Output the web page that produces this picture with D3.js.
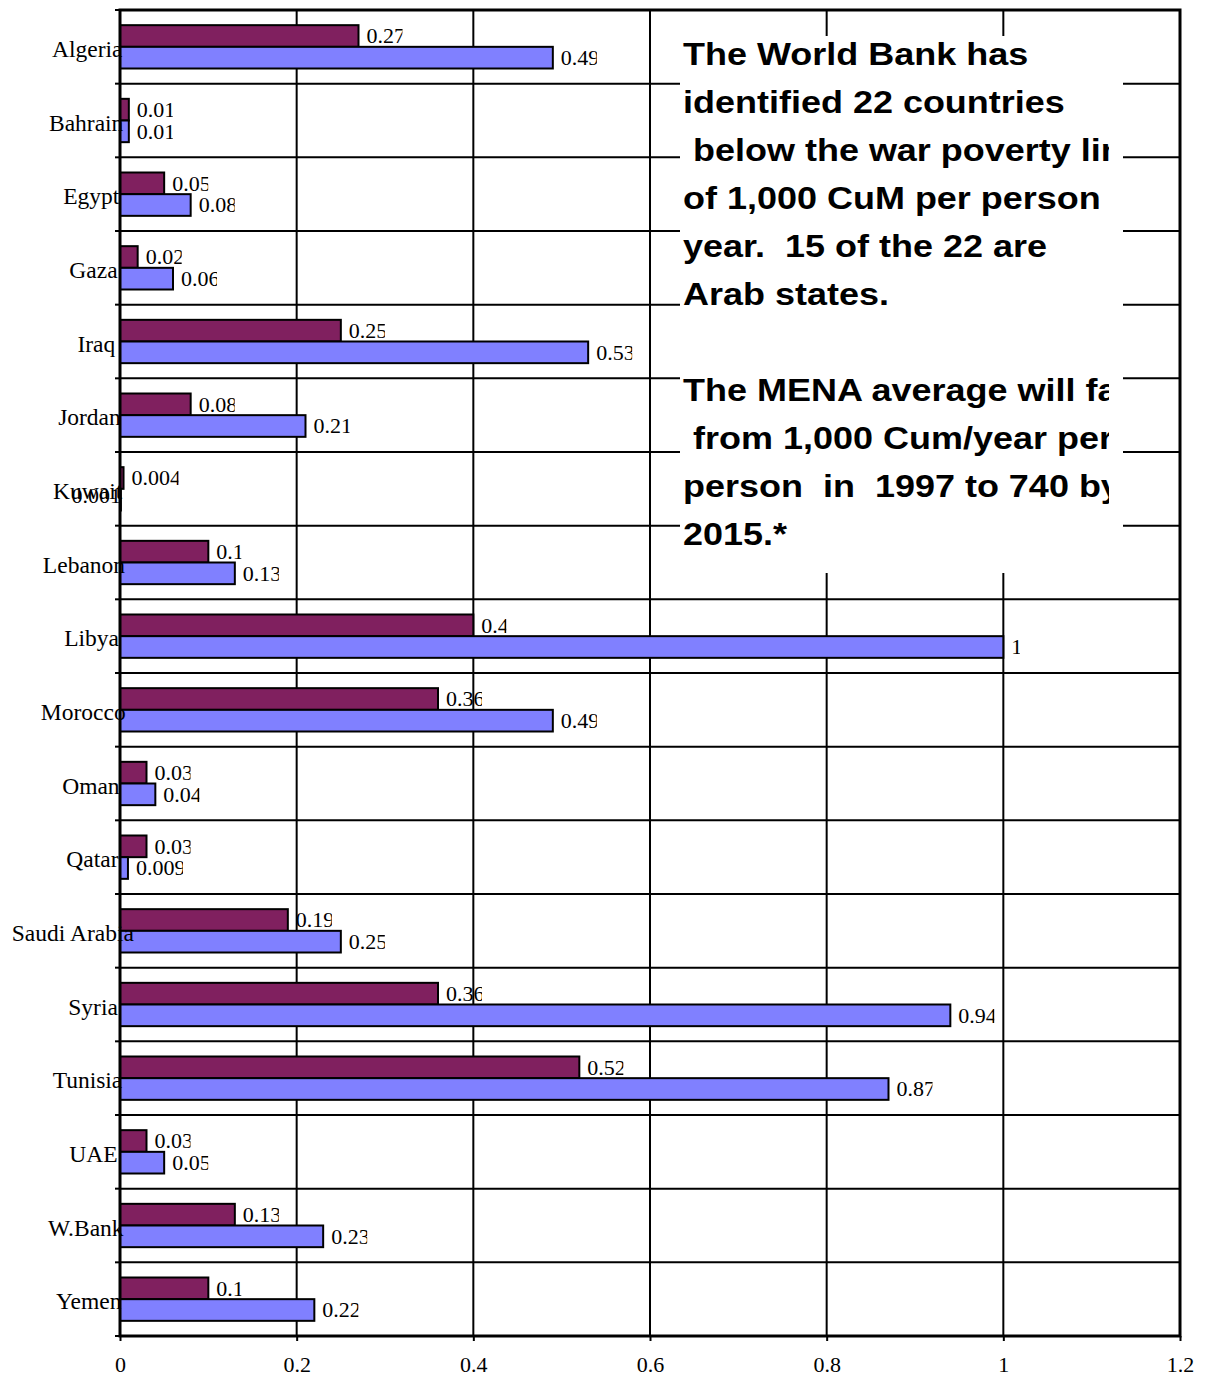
<!DOCTYPE html>
<html>
<head>
<meta charset="utf-8">
<script src="https://cdnjs.cloudflare.com/ajax/libs/d3/7.8.5/d3.min.js"></script>
<style>
  html, body { margin: 0; padding: 0; background: #fff; }
  svg { display: block; }
</style>
</head>
<body>
<svg id="chart" width="1206" height="1374"></svg>
<script>
// Countries, top to bottom
const countries = ["Algeria", "Bahrain", "Egypt", "Gaza", "Iraq", "Jordan", "Kuwait", "Lebanon",
  "Libya", "Morocco", "Oman", "Qatar", "Saudi Arabia", "Syria", "Tunisia", "UAE", "W.Bank", "Yemen"];

// Upper (purple) bar of each pair
const seriesUpper = [0.27, 0.01, 0.05, 0.02, 0.25, 0.08, 0.004, 0.1,
  0.4, 0.36, 0.03, 0.03, 0.19, 0.36, 0.52, 0.03, 0.13, 0.1];

// Lower (blue) bar of each pair
const seriesLower = [0.49, 0.01, 0.08, 0.06, 0.53, 0.21, 0.001, 0.13,
  1, 0.49, 0.04, 0.009, 0.25, 0.94, 0.87, 0.05, 0.23, 0.22];

const seriesNames = ["upper", "lower"];
const seriesColors = ["#80205F", "#8080FF"];

const xTickValues = [0, 0.2, 0.4, 0.6, 0.8, 1, 1.2];
const xTickLabels = ["0", "0.2", "0.4", "0.6", "0.8", "1", "1.2"];

const noteLines = [
  "The World Bank has",
  "identified 22 countries",
  " below the war poverty line",
  "of 1,000 CuM per person",
  "year.  15 of the 22 are",
  "Arab states.",
  "",
  "The MENA average will fall",
  " from 1,000 Cum/year per",
  "person  in  1997 to 740 by",
  "2015.*"
];

const svg = d3.select("#chart");
const plotLeft = 120, plotRight = 1180, plotTop = 10, plotBottom = 1336;
const serif = "'Liberation Serif', 'Times New Roman', serif";

const x = d3.scaleLinear().domain([0, 1.2]).range([plotLeft, plotRight]);
const y = d3.scaleBand().domain(countries).range([plotTop, plotBottom]).padding(0);
const ySub = d3.scaleBand().domain(seriesNames).range([0, y.bandwidth()])
  .paddingInner(0).paddingOuter(0.7);

const rows = countries.map((c, i) => ({ country: c, values: [seriesUpper[i], seriesLower[i]] }));

// Gridlines
const grid = svg.append("g");
grid.selectAll("line.v").data(xTickValues.slice(1, -1)).join("line")
  .attr("class", "v")
  .attr("x1", d => x(d)).attr("x2", d => x(d))
  .attr("y1", plotTop).attr("y2", plotBottom)
  .attr("stroke", "#000").attr("stroke-width", 2);
grid.selectAll("line.h").data(countries.slice(1)).join("line")
  .attr("class", "h")
  .attr("x1", plotLeft).attr("x2", plotRight)
  .attr("y1", d => y(d)).attr("y2", d => y(d))
  .attr("stroke", "#000").attr("stroke-width", 2);

// Bars
const groups = svg.append("g").selectAll("g").data(rows).join("g")
  .attr("transform", d => `translate(0,${y(d.country)})`);
groups.selectAll("rect").data(d => d.values.map((v, k) => ({ v, k }))).join("rect")
  .attr("x", x(0))
  .attr("y", d => ySub(seriesNames[d.k]))
  .attr("width", d => x(d.v) - x(0))
  .attr("height", ySub.bandwidth())
  .attr("fill", d => seriesColors[d.k])
  .attr("stroke", "#000").attr("stroke-width", 2);

// Frame
svg.append("rect").attr("x", plotLeft).attr("y", plotTop)
  .attr("width", plotRight - plotLeft).attr("height", plotBottom - plotTop)
  .attr("fill", "none").attr("stroke", "#000").attr("stroke-width", 3);

// Category boundary ticks on the left
svg.append("g").selectAll("line").data(d3.range(countries.length + 1)).join("line")
  .attr("x1", plotLeft - 5).attr("x2", plotLeft)
  .attr("y1", i => plotTop + i * y.step()).attr("y2", i => plotTop + i * y.step())
  .attr("stroke", "#000").attr("stroke-width", 2);

// Bottom axis
const xAxis = d3.axisBottom(x).tickValues(xTickValues)
  .tickFormat((d, i) => xTickLabels[i]).tickSize(5).tickPadding(15);
const gx = svg.append("g").attr("transform", `translate(0,${plotBottom})`).call(xAxis);
gx.select(".domain").remove();
gx.selectAll(".tick line").attr("stroke-width", 2);
gx.selectAll(".tick text").attr("font-family", serif).attr("font-size", 22).attr("fill", "#000");

// Note box
const boxX = 680, boxY = 36, boxW = 443, boxH = 537;
svg.append("rect").attr("x", boxX).attr("y", boxY).attr("width", boxW).attr("height", boxH)
  .attr("fill", "#fff");
const defs = svg.append("defs");
defs.append("clipPath").attr("id", "noteClip")
  .append("rect").attr("x", boxX).attr("y", boxY).attr("width", 1109 - boxX).attr("height", boxH);
const note = svg.append("g").attr("clip-path", "url(#noteClip)");
note.selectAll("text").data(noteLines).join("text")
  .attr("transform", (d, i) => `translate(683,${65 + i * 48}) scale(1.18,1)`)
  .attr("font-family", "'Liberation Sans', Arial, sans-serif")
  .attr("font-weight", "bold").attr("font-size", 30.5).attr("fill", "#000")
  .style("white-space", "pre")
  .text(d => d);

// Value labels, trimmed a little at the right end
const labelLayer = svg.append("g");
let clipId = 0;
rows.forEach(r => {
  r.values.forEach((v, k) => {
    const cy = y(r.country) + ySub(seriesNames[k]) + ySub.bandwidth() / 2;
    const thin = x(v) - x(0) < 1.5;
    const t = labelLayer.append("text")
      .attr("font-family", serif).attr("font-size", 22).attr("fill", "#000")
      .attr("y", thin ? cy - 4 : cy).attr("dy", "0.34em")
      .text(String(v));
    if (thin) {
      // a bar too thin to see gets its label just left of the axis
      t.attr("x", x(0) + 1).attr("text-anchor", "end");
    } else {
      const tx = x(v) + 8;
      t.attr("x", tx);
      const len = t.node().getComputedTextLength();
      const id = "lc" + (clipId++);
      defs.append("clipPath").attr("id", id).append("rect")
        .attr("x", tx - 2).attr("y", cy - 20).attr("width", len - 0.5).attr("height", 40);
      t.attr("clip-path", `url(#${id})`);
    }
  });
});

// Category labels: longer names run a little further past the axis
svg.append("g").selectAll("text").data(countries).join("text")
  .attr("y", d => y(d) + y.bandwidth() / 2 + 0.6)
  .attr("dy", "0.4em")
  .attr("text-anchor", "end")
  .attr("font-family", serif).attr("font-size", 23.5).attr("fill", "#000")
  .text(d => d)
  .attr("x", function () { return 107 + 0.22 * this.getComputedTextLength(); });
</script>
</body>
</html>
